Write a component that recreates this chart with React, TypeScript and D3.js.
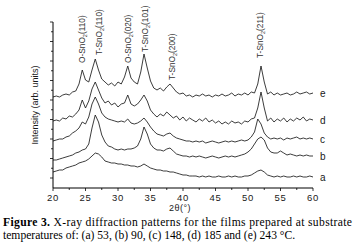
import React from "react";
import * as d3 from "d3";

// 2θ sampling grid (degrees), 0.5° steps from 20 to 60
const twoTheta: number[] = d3.range(20, 60.001, 0.5);

// Intensities (arb. units), one value per 2θ step
const seriesA = [6,7,8,8,10,11,12,13,15,16,17,19,22,25,24,21,17,16,15,15,14,14,13,13,12,12,11,12,14,12,10,9,8,8,7,7,6,6,5,4,3,3,2,2,2,1,2,1,2,1,1,2,1,1,2,1,2,1,1,2,2,3,5,7,8,6,3,2,1,2,1,2,1,1,2,1,2,1,1,2,1];
const seriesB = [18,18,19,20,21,22,23,25,26,28,29,34,50,63,56,43,36,32,31,29,28,29,28,29,29,30,32,39,51,44,34,30,28,28,27,29,30,27,24,23,22,22,21,22,21,22,21,20,21,22,21,20,21,22,21,22,21,22,23,24,26,29,34,39,41,38,30,26,25,25,27,25,23,24,23,22,23,22,23,22,22];
const seriesC = [37,38,39,39,41,42,45,47,50,56,54,61,74,81,74,65,61,59,58,57,56,57,56,59,55,54,55,57,60,56,51,47,44,43,42,44,45,42,40,39,38,37,37,36,37,36,37,35,36,37,36,35,36,37,36,37,36,37,38,37,38,41,46,59,54,45,41,39,40,39,40,38,40,39,40,41,39,40,39,40,39];
const seriesD = [57,58,57,60,59,62,61,64,68,78,70,77,89,96,88,80,75,77,73,75,71,74,75,83,74,72,74,78,83,77,68,64,61,64,62,66,63,60,62,58,61,57,60,58,56,59,57,60,56,58,55,57,54,56,54,57,55,56,54,57,56,59,60,70,86,70,57,60,56,59,57,60,56,59,57,60,58,61,57,59,58];
const seriesE = [81,82,81,83,84,83,86,87,94,108,98,96,108,119,108,99,96,93,95,92,96,94,101,112,100,96,94,106,124,110,97,90,88,90,87,91,94,90,86,84,85,82,83,81,83,82,84,82,83,81,83,82,84,82,83,85,82,84,83,85,83,86,85,94,112,96,84,86,83,85,83,84,85,83,84,86,84,85,86,84,85];

const seriesNames = ["a", "b", "c", "d", "e"];
const seriesValues = [seriesA, seriesB, seriesC, seriesD, seriesE];

// Peak labels: phase, index, 2θ position, label start height (arb. units)
const peakPhases = ["O", "T", "O", "T", "T", "T"];
const peakIndices = ["(110)", "(110)", "(020)", "(101)", "(200)", "(211)"];
const peakAngles = [24.4, 27.0, 31.6, 34.2, 38.3, 51.9];
const peakLabelBase = [115, 123, 115, 126, 98, 120];

const xTickValues = [20, 25, 30, 35, 40, 45, 50, 55, 60];
const xMinorTicks = [22.5, 27.5, 32.5, 37.5, 42.5, 47.5, 52.5, 57.5];
const yMajorTicks = [0, 19.5, 39, 58.5, 78, 97.5, 117, 136.5, 156];
const yMinorTicks = [9.75, 29.25, 48.75, 68.25, 87.75, 107.25, 126.75, 146.25];

export default function App() {
  const W = 357, H = 245;
  const x = d3.scaleLinear().domain([20, 60]).range([53, 313]);
  const y = d3.scaleLinear().domain([-10, 156]).range([188, 22]);
  const line = d3
    .line<number>()
    .x((_, i) => x(twoTheta[i]))
    .y((d) => y(d));

  const sans = "Arial, 'Liberation Sans', Helvetica, sans-serif";
  const serif = "'Times New Roman', 'Liberation Serif', serif";
  const ink = "#1a1a1a";

  return (
    <svg
      width={W}
      height={H}
      viewBox={`0 0 ${W} ${H}`}
      style={{ position: "absolute", left: 0, top: 0, background: "#fff" }}
    >
      <rect x={0} y={0} width={W} height={H} fill="#fff" />
      {/* curves */}
      {seriesValues.map((vals, k) => (
        <path key={k} d={line(vals) || ""} fill="none" stroke={ink} strokeWidth={0.85} strokeLinejoin="round" />
      ))}
      {/* series labels */}
      {seriesValues.map((vals, k) => (
        <text
          key={"l" + k}
          x={x(60) + 7}
          y={y(vals[vals.length - 1]) + 3.5}
          fontFamily={sans}
          fontSize={10}
          fill={ink}
        >
          {seriesNames[k]}
        </text>
      ))}
      {/* peak labels */}
      {peakAngles.map((a, k) => (
        <text
          key={"p" + k}
          transform={`translate(${x(a) + 3},${y(peakLabelBase[k])}) rotate(-90)`}
          fontFamily={sans}
          fontSize={8.3}
          fill="#333"
        >
          {peakPhases[k]}-SnO
          <tspan fontSize={5.5} dy={2}>2</tspan>
          <tspan dy={-2}>{peakIndices[k]}</tspan>
        </text>
      ))}
      {/* y axis */}
      <line x1={x(20)} x2={x(20)} y1={y(-10)} y2={y(156)} stroke="#000" strokeWidth={1} />
      {yMajorTicks.map((t) => (
        <line key={"ym" + t} x1={x(20) - 3} x2={x(20)} y1={y(t)} y2={y(t)} stroke="#000" strokeWidth={0.8} />
      ))}
      {yMinorTicks.map((t) => (
        <line key={"yn" + t} x1={x(20) - 2} x2={x(20)} y1={y(t)} y2={y(t)} stroke="#000" strokeWidth={0.8} />
      ))}
      {/* x axis */}
      <line x1={x(20)} x2={x(60)} y1={y(-10)} y2={y(-10)} stroke="#000" strokeWidth={1} />
      {xTickValues.map((t) => (
        <g key={"xt" + t}>
          <line x1={x(t)} x2={x(t)} y1={y(-10)} y2={y(-10) + 3} stroke="#000" strokeWidth={0.8} />
          <text x={x(t)} y={y(-10) + 13} textAnchor="middle" fontFamily={sans} fontSize={9.5} letterSpacing={0.8} fill={ink}>
            {t}
          </text>
        </g>
      ))}
      {xMinorTicks.map((t) => (
        <line key={"xn" + t} x1={x(t)} x2={x(t)} y1={y(-10)} y2={y(-10) + 2} stroke="#000" strokeWidth={0.8} />
      ))}
      {/* axis titles */}
      <text x={180} y={211} textAnchor="middle" fontFamily={sans} fontSize={9} letterSpacing={0.5} fill={ink}>
        2θ(°)
      </text>
      <text
        transform={`translate(38,105) rotate(-90)`}
        textAnchor="middle"
        fontFamily={sans}
        fontSize={9}
        fill={ink}
      >
        Intensity (arb. units)
      </text>
      {/* caption */}
      <text x={3} y={226} fontFamily={serif} fontSize={11.6} fill="#000" textLength={349} lengthAdjust="spacing">
        <tspan fontWeight="bold">Figure 3.</tspan> X-ray diffraction patterns for the films prepared at substrate
      </text>
      <text x={3} y={239} fontFamily={serif} fontSize={11.6} fill="#000">
        temperatures of: (a) 53, (b) 90, (c) 148, (d) 185 and (e) 243 °C.
      </text>
    </svg>
  );
}
